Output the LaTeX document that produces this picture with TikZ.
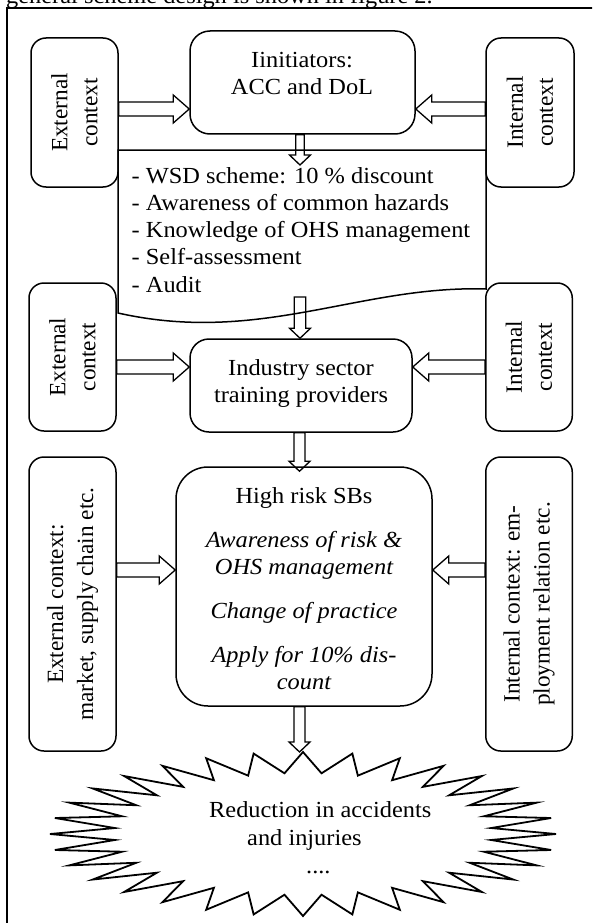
\documentclass[tikz,border=0pt]{standalone}
\usepackage{fontspec}
\setmainfont{Liberation Serif}
\newfontfamily\hfont{Liberation Serif}[FakeStretch=1.06]
\usetikzlibrary{calc}
\tikzset{
  box/.style={draw, line width=1.5pt, rounded corners=15pt, inner sep=0pt},
  txt/.style={font=\hfont\fontsize{23}{27.5}\selectfont, inner sep=0pt},
  itxt/.style={font=\hfont\itshape\fontsize{23}{27.5}\selectfont, inner sep=0pt},
  rtxt/.style={font=\fontsize{23.3}{30}\selectfont, rotate=90, align=center, inner sep=0pt},
  barrow/.style={draw, line width=1.3pt, line join=miter},
  doc/.style={draw, line width=1.5pt},
  burst/.style={draw, line width=1.8pt, line join=miter},
  frame/.style={draw, line width=2pt},
}
% right-pointing block arrow: #1 start, #2 tip, #3 y centre
\newcommand\harrowR[3]{\draw[barrow] let \p1=(#1), \p2=(#2) in
  (\x1,#3+7) -- (\x2-16pt,#3+7) -- (\x2-16pt,#3+14) -- (\x2,#3) --
  (\x2-16pt,#3-14) -- (\x2-16pt,#3-7) -- (\x1,#3-7) -- cycle;}
% left-pointing block arrow
\newcommand\harrowL[3]{\draw[barrow] let \p1=(#1), \p2=(#2) in
  (\x1,#3+7) -- (\x2+16pt,#3+7) -- (\x2+16pt,#3+14) -- (\x2,#3) --
  (\x2+16pt,#3-14) -- (\x2+16pt,#3-7) -- (\x1,#3-7) -- cycle;}
% down-pointing block arrow: #1 start, #2 tip, #3 x centre, #4 shaft half width
\newcommand\varrowD[4]{\draw[barrow] let \p1=(#1), \p2=(#2) in
  (#3-#4,\y1) -- (#3-#4,\y2+10pt) -- (#3-10.5,\y2+10pt) -- (#3,\y2) --
  (#3+10.5,\y2+10pt) -- (#3+#4,\y2+10pt) -- (#3+#4,\y1) -- cycle;}
\begin{document}
\begin{tikzpicture}[x=1pt,y=1pt]
\path[use as bounding box] (0,0) rectangle (592,-923);
\clip (0,0) rectangle (592,-923);

% clipped caption line above the frame
\node[txt, anchor=base west] (caption) at (6,-4) {general scheme design is shown in figure 2.};
% outer frame (runs past the right and bottom edges)
\draw[frame] (7,-8) rectangle (650,-980);

% boxes
\node[box, minimum width=87pt, minimum height=149pt] (ext1) at (74.5,-112.5) {};
\node[box, minimum width=88pt, minimum height=149pt] (int1) at (530,-112.5) {};
\node[box, rounded corners=20pt, minimum width=225pt, minimum height=103pt] (init) at (302.5,-82.5) {};
\node[box, minimum width=87pt, minimum height=148pt] (ext2) at (72.5,-357) {};
\node[box, minimum width=86.5pt, minimum height=148pt] (int2) at (529,-357) {};
\node[box, rounded corners=19pt, minimum width=222pt, minimum height=93pt] (ind) at (301,-385.5) {};
\node[box, minimum width=87pt, minimum height=294pt] (ext3) at (72.5,-604) {};
\node[box, minimum width=86.5pt, minimum height=294pt] (int3) at (529,-604) {};
\node[box, rounded corners=32pt, minimum width=256pt, minimum height=239pt] (sb) at (304,-586.5) {};

% document shape
\draw[doc] (118,-150) -- (486,-150) -- (486,-289)
  .. controls (360,-285) and (260,-345) .. (118,-313) -- cycle;
\coordinate (doctop) at (300,-165);
\coordinate (docbot) at (300,-297);

% burst
\coordinate (burst) at (303,-834);
\coordinate (bursttop) at (303,-752);
\draw[burst] (556,-834) \foreach \k in {1,...,63} {
  -- ({303+(253-64*isodd(\k))*cos(\k*5.625)},{-834+(82-21*isodd(\k))*sin(\k*5.625)}) } -- cycle;

% rotated texts
\node[rtxt] (ext1t) at (ext1) {External\\context};
\node[rtxt] (int1t) at (int1) {Internal\\context};
\node[rtxt] (ext2t) at (ext2) {External\\context};
\node[rtxt] (int2t) at (int2) {Internal\\context};
\node[rtxt] (ext3t) at (ext3) {External context:\\market, supply chain etc.};
\node[rtxt] (int3t) at (int3) {Internal context: em-\\ployment relation etc.};

% box texts
\node[txt, anchor=base] (initA) at (302,-68) {Iinitiators:};
\node[txt, anchor=base] (initB) at (302,-95) {ACC and DoL};
\node[txt, anchor=base] (indA) at (301,-375) {Industry sector};
\node[txt, anchor=base] (indB) at (301,-402) {training providers};
\node[txt, anchor=base] (sbA) at (304,-503) {High risk SBs};
\node[itxt, anchor=base] (sbB) at (304,-547) {Awareness of risk \&};
\node[itxt, anchor=base] (sbC) at (304,-574) {OHS management};
\node[itxt, anchor=base] (sbD) at (304,-618) {Change of practice};
\node[itxt, anchor=base] (sbE) at (304,-662) {Apply for 10\% dis-};
\node[itxt, anchor=base] (sbF) at (304,-689) {count};

% document list
\node[txt, anchor=base west] (l1) at (131.5,-183) {- WSD scheme: 10 \% discount};
\node[txt, anchor=base west] (l2) at (131.5,-210.3) {- Awareness of common hazards};
\node[txt, anchor=base west] (l3) at (131.5,-237.6) {- Knowledge of OHS management};
\node[txt, anchor=base west] (l4) at (131.5,-264.9) {- Self-assessment};
\node[txt, anchor=base west] (l5) at (131.5,-292.2) {- Audit};

% burst text
\node[txt, anchor=base west] (r1) at (209,-817) {Reduction in accidents};
\node[txt, anchor=base west] (r2) at (247,-845) {and injuries};
\node[txt, anchor=base west] (r3) at (306,-873) {....};

% block arrows
\harrowR{ext1.east}{init.west}{-109}
\harrowL{int1.west}{init.east}{-109}
\varrowD{init.south}{doctop}{300}{4.2}
\varrowD{docbot}{ind.north}{300}{5.7}
\harrowR{ext2.east}{ind.west}{-367}
\harrowL{int2.west}{ind.east}{-367}
\varrowD{ind.south}{[yshift=-5pt]sb.north}{299.5}{5.5}
\harrowR{ext3.east}{sb.west}{-570}
\harrowL{int3.west}{sb.east}{-570}
\varrowD{sb.south}{bursttop}{299.5}{5.5}
\end{tikzpicture}
\end{document}
